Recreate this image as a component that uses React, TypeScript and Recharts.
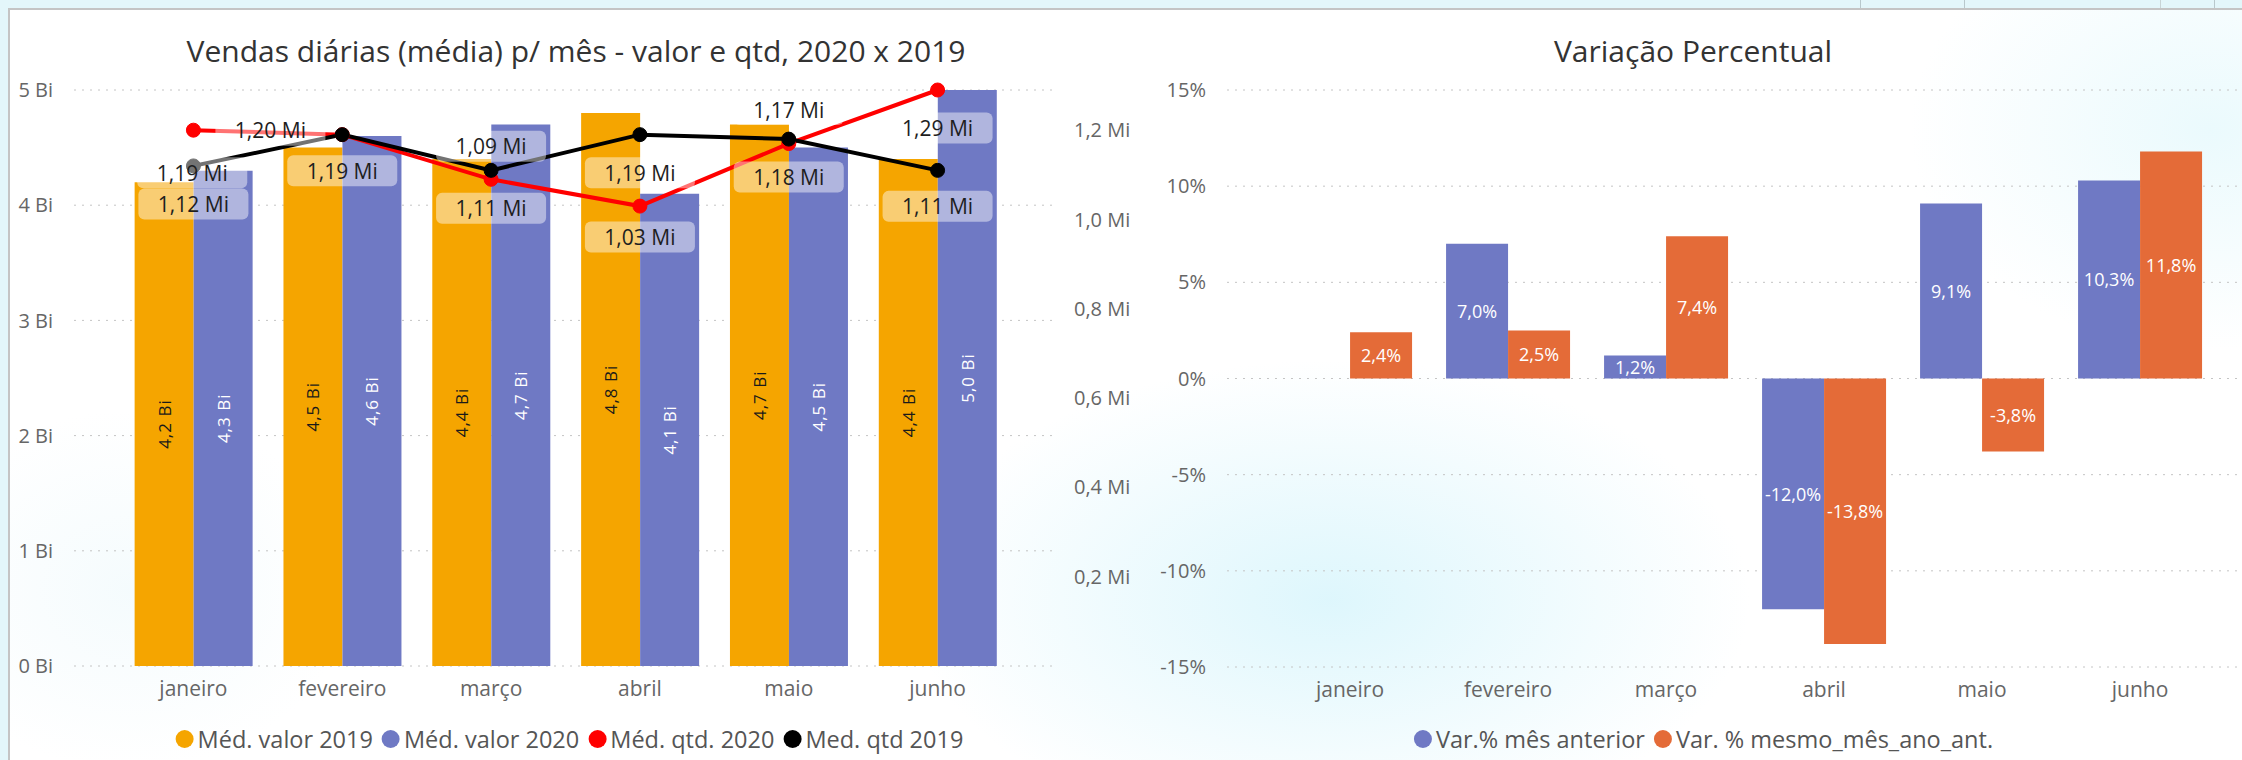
import React from "react"
import { ComposedChart, BarChart, Bar, Line, XAxis, YAxis, CartesianGrid, LabelList } from "recharts"

const meses = ["janeiro", "fevereiro", "março", "abril", "maio", "junho"]
const valor2019 = [4.2, 4.5, 4.4, 4.8, 4.7, 4.4] // Bi
const valor2020 = [4.3, 4.6, 4.7, 4.1, 4.5, 5.0] // Bi
const qtd2020 = [1.2, 1.19, 1.09, 1.03, 1.17, 1.29] // Mi
const qtd2019 = [1.12, 1.19, 1.11, 1.19, 1.18, 1.11] // Mi
const varMesAnterior = [null, 7.0, 1.2, -12.0, 9.1, 10.3] // %
const varMesmoMes = [2.4, 2.5, 7.4, -13.8, -3.8, 11.8] // %

const ticksBi = [0, 1, 2, 3, 4, 5]
const ticksMi = [0.2, 0.4, 0.6, 0.8, 1.0, 1.2]
const ticksPct = [-15, -10, -5, 0, 5, 10, 15]

const FONT = "'Segoe UI', 'Open Sans', 'Noto Sans', sans-serif"
const ORANGE = "#F5A500"
const PURPLE = "#6F79C4"
const RED = "#FF0000"
const BLACK = "#000000"
const ORANGE2 = "#E46B38"

const dadosValor = meses.map((mes, i) => ({
  mes,
  valor2019: valor2019[i],
  valor2020: valor2020[i],
  qtd2020: qtd2020[i],
  qtd2019: qtd2019[i],
}))

const dadosVar = meses.map((mes, i) => ({
  mes,
  varMesAnterior: varMesAnterior[i],
  varMesmoMes: varMesmoMes[i],
}))

const virgula = (v: number, d: number) => v.toFixed(d).replace(".", ",")

// deslocamento dos rótulos das linhas em relação ao ponto
const offsetQtd2020 = [[77, 0], [-150, 38], [0, -33], [0, 31], [0, -34], [0, 38]]
const offsetQtd2019 = [[0, 38], [0, 36], [0, 38], [0, 38], [0, 38], [0, 36]]

const tickStyle = { fill: "#666", fontSize: 20, fontFamily: FONT }

const rotLabel = (cor: string) => (props: any) => {
  const { x, y, width, height, value } = props
  if (value == null) return null
  const cx = Number(x) + Number(width) / 2
  const cy = Number(y) + Number(height) / 2
  return (
    <text
      x={cx}
      y={cy}
      transform={`rotate(-90 ${cx} ${cy})`}
      textAnchor="middle"
      dominantBaseline="central"
      fill={cor}
      fontSize={17}
      letterSpacing={1}
      fontFamily={FONT}
    >
      {virgula(value, 1)} Bi
    </text>
  )
}

const boxLabel = (offsets: number[][]) => (props: any) => {
  const { x, y, value, index } = props
  if (value == null) return null
  const [dx, dy] = offsets[index] || [0, 0]
  const cx = Number(x) + dx
  const cy = Number(y) + dy
  return (
    <g>
      <rect x={cx - 55} y={cy - 15.5} width={110} height={31} rx={6} fill="#ffffff" fillOpacity={0.45} />
      <text x={cx} y={cy} textAnchor="middle" dominantBaseline="central" fill="#1e1e1e" fontSize={21} fontFamily={FONT}>
        {virgula(value, 2)} Mi
      </text>
    </g>
  )
}

const pctLabel = (props: any) => {
  const { x, y, width, height, value } = props
  if (value == null) return null
  const cx = Number(x) + Number(width) / 2
  const cy = Number(y) + Number(height) / 2
  return (
    <text x={cx} y={cy} textAnchor="middle" dominantBaseline="central" fill="#fff" fontSize={18} fontFamily={FONT}>
      {virgula(value, 1)}%
    </text>
  )
}

function Legenda({ itens, cx }: { itens: { nome: string; cor: string }[]; cx: number }) {
  return (
    <div
      style={{
        position: "absolute",
        left: cx,
        top: 739,
        transform: "translate(-50%, -50%)",
        display: "flex",
        alignItems: "center",
        whiteSpace: "nowrap",
        fontFamily: FONT,
        fontSize: 23.5,
        color: "#555",
      }}
    >
      {itens.map((it) => (
        <span key={it.nome} style={{ display: "flex", alignItems: "center", marginRight: 9 }}>
          <span style={{ width: 18, height: 18, borderRadius: "50%", background: it.cor, marginRight: 4 }} />
          {it.nome}
        </span>
      ))}
    </div>
  )
}

const titulo = (texto: string, cx: number) => (
  <div
    style={{
      position: "absolute",
      left: cx,
      top: 50,
      transform: "translate(-50%, -50%)",
      whiteSpace: "nowrap",
      fontFamily: FONT,
      fontSize: 30,
      color: "#333",
    }}
  >
    {texto}
  </div>
)

export default function App() {
  return (
    <div
      style={{
        position: "absolute",
        left: 0,
        top: 0,
        width: 2242,
        height: 760,
        overflow: "hidden",
        background: "#e3f6fa",
      }}
    >
      {/* cartão branco do relatório */}
      <div
        style={{
          position: "absolute",
          left: 8,
          top: 8,
          width: 2242,
          height: 760,
          background:
            "radial-gradient(ellipse 420px 240px at 1320px 590px, rgba(216,245,252,0.85), rgba(255,255,255,0) 100%), radial-gradient(ellipse 300px 220px at 2200px 120px, rgba(226,248,252,0.7), rgba(255,255,255,0) 100%), radial-gradient(ellipse 220px 180px at 120px 580px, rgba(238,249,252,0.6), rgba(255,255,255,0) 100%), #fff",
          borderLeft: "2px solid #c4c4c4",
          borderTop: "2px solid #c4c4c4",
        }}
      />
      {/* detalhes da barra superior */}
      <div style={{ position: "absolute", left: 1860, top: 0, width: 103, height: 8, borderLeft: "1px solid #b8c8cc", borderRight: "1px solid #b8c8cc" }} />
      <div style={{ position: "absolute", left: 2160, top: 0, width: 53, height: 8, borderLeft: "1px solid #c8d4d6", borderRight: "1px solid #b8c8cc" }} />

      {titulo("Vendas diárias (média) p/ mês - valor e qtd, 2020 x 2019", 576)}
      {titulo("Variação Percentual", 1693)}

      <div style={{ position: "absolute", left: 0, top: 0 }}>
        <ComposedChart
          width={1140}
          height={760}
          data={dadosValor}
          margin={{ top: 90, right: 0, bottom: 54, left: 0 }}
          barCategoryGap="10.5%"
          barGap={0}
        >
          <CartesianGrid yAxisId="bi" vertical={false} stroke="#c4c4c4" strokeDasharray="2 6" />
          <XAxis
            dataKey="mes"
            interval={0}
            axisLine={false}
            tickLine={false}
            height={40}
            tickMargin={9}
            padding={{ left: 45, right: 41 }}
            tick={{ ...tickStyle, fontSize: 21 }}
          />
          <YAxis
            yAxisId="bi"
            width={74}
            domain={[0, 5]}
            ticks={ticksBi}
            tickFormatter={(v) => `${v} Bi`}
            axisLine={false}
            tickLine={false}
            tickMargin={15}
            tick={tickStyle}
          />
          <YAxis
            yAxisId="mi"
            orientation="right"
            width={87}
            domain={[0, 1.29]}
            ticks={ticksMi}
            tickFormatter={(v) => `${virgula(v, 1)} Mi`}
            axisLine={false}
            tickLine={false}
            tickMargin={15}
            tick={tickStyle}
          />
          <Bar yAxisId="bi" dataKey="valor2019" fill={ORANGE} isAnimationActive={false}>
            <LabelList dataKey="valor2019" content={rotLabel("#1a1a1a")} />
          </Bar>
          <Bar yAxisId="bi" dataKey="valor2020" fill={PURPLE} isAnimationActive={false}>
            <LabelList dataKey="valor2020" content={rotLabel("#ffffff")} />
          </Bar>
          <Line
            yAxisId="mi"
            dataKey="qtd2020"
            stroke={RED}
            strokeWidth={4}
            dot={{ r: 7, fill: RED, stroke: RED, strokeWidth: 1 }}
            activeDot={false}
            isAnimationActive={false}
          />
          <Line
            yAxisId="mi"
            dataKey="qtd2019"
            stroke={BLACK}
            strokeWidth={4}
            dot={{ r: 7, fill: BLACK, stroke: BLACK, strokeWidth: 1 }}
            activeDot={false}
            isAnimationActive={false}
          />
          {/* camadas só para os rótulos, por cima das linhas */}
          <Line yAxisId="mi" dataKey="qtd2019" stroke="none" dot={false} activeDot={false} legendType="none" isAnimationActive={false}>
            <LabelList dataKey="qtd2019" content={boxLabel(offsetQtd2019)} />
          </Line>
          <Line yAxisId="mi" dataKey="qtd2020" stroke="none" dot={false} activeDot={false} legendType="none" isAnimationActive={false}>
            <LabelList dataKey="qtd2020" content={boxLabel(offsetQtd2020)} />
          </Line>
        </ComposedChart>
      </div>

      <div style={{ position: "absolute", left: 1140, top: 0 }}>
        <BarChart
          width={1102}
          height={760}
          data={dadosVar}
          margin={{ top: 90, right: 0, bottom: 53, left: 0 }}
          barCategoryGap="10.8%"
          barGap={0}
        >
          <CartesianGrid vertical={false} stroke="#c4c4c4" strokeDasharray="2 6" />
          <XAxis
            dataKey="mes"
            interval={0}
            axisLine={false}
            tickLine={false}
            height={40}
            tickMargin={9}
            padding={{ left: 44, right: 23 }}
            tick={{ ...tickStyle, fontSize: 21 }}
          />
          <YAxis
            width={87}
            domain={[-15, 15]}
            ticks={ticksPct}
            tickFormatter={(v) => `${v}%`}
            axisLine={false}
            tickLine={false}
            tickMargin={15}
            tick={tickStyle}
          />
          <Bar dataKey="varMesAnterior" fill={PURPLE} isAnimationActive={false}>
            <LabelList dataKey="varMesAnterior" content={pctLabel} />
          </Bar>
          <Bar dataKey="varMesmoMes" fill={ORANGE2} isAnimationActive={false}>
            <LabelList dataKey="varMesmoMes" content={pctLabel} />
          </Bar>
        </BarChart>
      </div>

      <Legenda
        cx={574}
        itens={[
          { nome: "Méd. valor 2019", cor: ORANGE },
          { nome: "Méd. valor 2020", cor: PURPLE },
          { nome: "Méd. qtd. 2020", cor: RED },
          { nome: "Med. qtd 2019", cor: BLACK },
        ]}
      />
      <Legenda
        cx={1708}
        itens={[
          { nome: "Var.% mês anterior", cor: PURPLE },
          { nome: "Var. % mesmo_mês_ano_ant.", cor: ORANGE2 },
        ]}
      />
    </div>
  )
}
